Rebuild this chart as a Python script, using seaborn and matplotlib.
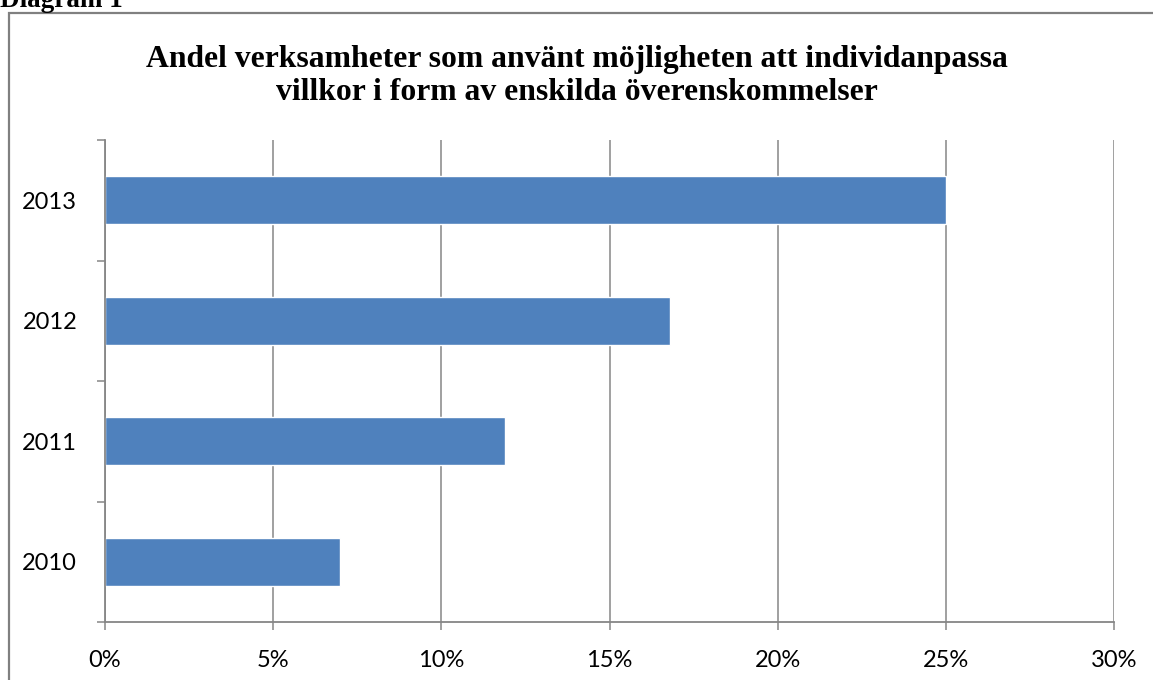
import matplotlib
matplotlib.use("Agg")
import matplotlib.pyplot as plt
import seaborn as sns
import pandas as pd
from matplotlib.patches import Rectangle
from matplotlib.ticker import FixedLocator, FuncFormatter

years = ["2013", "2012", "2011", "2010"]
values = [25.0, 16.8, 11.9, 7.0]
xticks = [0, 5, 10, 15, 20, 25, 30]
title = "Andel verksamheter som använt möjligheten att individanpassa\nvillkor i form av enskilda överenskommelser"

df = pd.DataFrame({"year": years, "value": values})

sns.set_theme(style="white")
plt.rcParams["font.family"] = ["Lato", "DejaVu Sans"]

W, H = 1153, 680
fig = plt.figure(figsize=(W / 100, H / 100), dpi=100)
ax = fig.add_axes([105 / W, 1 - 622 / H, (1114 - 105) / W, (622 - 140) / H])

sns.barplot(data=df, x="value", y="year", order=years, color="#4F81BD",
            width=0.4, saturation=1, ax=ax)

grid_c = "#868686"
ax.set_xlim(0, 30)
ax.set_ylim(3.5, -0.5)
ax.xaxis.set_major_locator(FixedLocator(xticks))
ax.xaxis.set_major_formatter(FuncFormatter(lambda v, p: f"{int(v)}%"))
ax.grid(axis="x", color=grid_c, linewidth=1.1)
ax.set_axisbelow(True)
ax.set_xlabel("")
ax.set_ylabel("")

for s in ["top", "right"]:
    ax.spines[s].set_visible(False)
for s in ["left", "bottom"]:
    ax.spines[s].set_color(grid_c)
    ax.spines[s].set_linewidth(1.3)

ax.tick_params(axis="x", which="major", length=6, width=1.1, color=grid_c,
               direction="out", pad=14, labelsize=17, labelcolor="black", bottom=True)
ax.tick_params(axis="y", which="major", length=0, pad=20, labelsize=17, labelcolor="black")
ax.yaxis.set_minor_locator(FixedLocator([-0.5, 0.5, 1.5, 2.5, 3.5]))
ax.tick_params(axis="y", which="minor", length=6, width=1.1, color=grid_c,
               direction="out", left=True)

fig.text(0.5, 1 - 76 / H, title, ha="center", va="center", fontsize=22.8,
         fontweight="bold", color="black",
         family=["Liberation Serif", "DejaVu Serif"], linespacing=1.2)

fig.text(0, 1 - 7 / H, "Diagram 1", ha="left", va="baseline", fontsize=19.5,
         fontweight="bold", color="black",
         family=["Liberation Serif", "DejaVu Serif"])

fig.patches.append(Rectangle((8.5 / W, -0.1), 1.5, 1 - 13 / H + 0.1,
                             transform=fig.transFigure, fill=False,
                             edgecolor="#808080", linewidth=1.6))

fig.savefig("out.png", dpi=100)
